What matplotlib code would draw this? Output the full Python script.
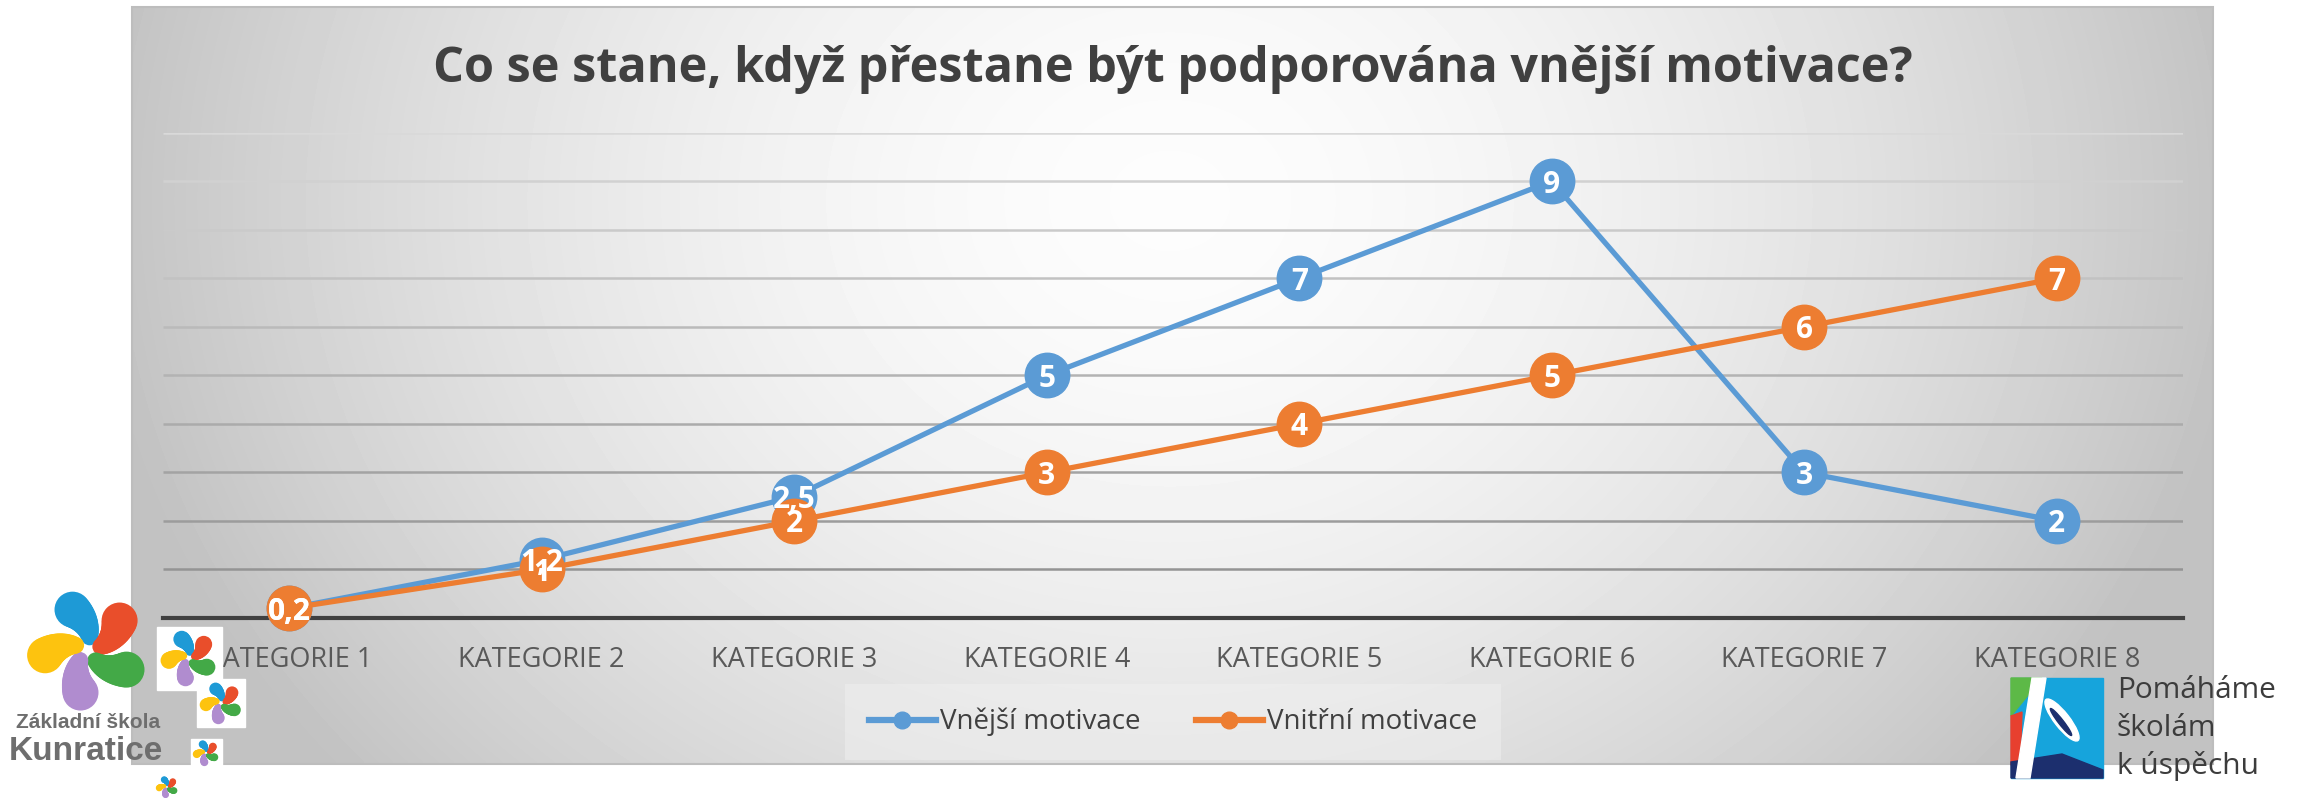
import numpy as np
import matplotlib
matplotlib.use("Agg")
import matplotlib.pyplot as plt
from matplotlib.patches import Rectangle, Ellipse, Polygon, Circle
from matplotlib.lines import Line2D


# DATA
categories = ["KATEGORIE 1", "KATEGORIE 2", "KATEGORIE 3", "KATEGORIE 4",
              "KATEGORIE 5", "KATEGORIE 6", "KATEGORIE 7", "KATEGORIE 8"]
vnejsi = [0.2, 1.2, 2.5, 5, 7, 9, 3, 2]
vnitrni = [0.2, 1, 2, 3, 4, 5, 6, 7]
series_names = ["Vnější motivace", "Vnitřní motivace"]
title = "Co se stane, když přestane být podporována vnější motivace?"

colors = ["#5B9BD5", "#ED7D31"]
W, H = 2305, 798
FONT = ["Open Sans", "DejaVu Sans"]

plt.rcParams["font.family"] = FONT

fig = plt.figure(figsize=(W / 100, H / 100), dpi=100)
fig.patch.set_facecolor("white")


# BACKGROUND PANEL (pixel coordinates)
bg = fig.add_axes([0, 0, 1, 1], zorder=0)
bg.set_xlim(0, W)
bg.set_ylim(H, 0)
bg.axis("off")

px0, px1, py0, py1 = 132, 2213, 7, 764
xx, yy = np.meshgrid(np.linspace(px0, px1, 500), np.linspace(py0, py1, 200))
r = np.sqrt(((xx - 1170) / 1080) ** 2 + ((yy - 200) / 900) ** 2)
shade = 0.99 - 0.23 * np.clip(r, 0, 1) ** 1.7
bg.imshow(shade, cmap="gray", vmin=0, vmax=1, extent=(px0, px1, py1, py0),
          aspect="auto", interpolation="bilinear")
bg.add_patch(Rectangle((px0, py0), px1 - px0, py1 - py0, fill=False,
                       ec="#bdbdbd", lw=1.5))

bg.text((px0 + px1) / 2, 70, title, ha="center", va="center", fontsize=35,
        fontweight="bold", color="#404040")


# CHART
ax = fig.add_axes([163 / W, 1 - 618 / H, (2183 - 163) / W, (618 - 132.7) / H],
                  zorder=1)
ax.patch.set_alpha(0)
x = np.arange(len(categories))
ax.set_xlim(-0.5, len(categories) - 0.5)
ax.set_ylim(0, 10)

grid_vals = np.arange(1, 11)
grid_cols = [plt.cm.gray(0.58 + 0.27 * (v - 1) / 9) for v in grid_vals]
ax.hlines(grid_vals, -0.5, len(categories) - 0.5, colors=grid_cols, lw=1.8,
          zorder=1)
ax.axhline(0, color="#404040", lw=3, zorder=2, clip_on=False)

for vals, name, c in zip([vnejsi, vnitrni], series_names, colors):
    ax.plot(x, vals, color=c, lw=3.8, marker="o", ms=32, mfc=c, mec=c,
            solid_capstyle="round", clip_on=False, zorder=3)

for vals in [vnejsi, vnitrni]:
    for xi, v in zip(x, vals):
        ax.text(xi, v, f"{v:g}".replace(".", ","), ha="center",
                va="center_baseline", color="white", fontsize=21.5,
                fontweight="bold", zorder=5)

ax.set_xticks(x, categories)
ax.set_yticks([])
ax.tick_params(axis="x", length=0, pad=20, labelsize=19.5, labelcolor="#595959")
for s in ax.spines.values():
    s.set_visible(False)

handles = [Line2D([], [], color=c, lw=4.5, marker="o", ms=12, mfc=c, mec=c)
           for c in colors]
leg = fig.legend(handles, series_names, loc="center",
                 bbox_to_anchor=(1173 / W, 1 - 722 / H), ncol=2, fontsize=20,
                 frameon=True, facecolor="#f2f2f2", edgecolor="none",
                 framealpha=0.45, handlelength=2.4, handletextpad=0.15,
                 columnspacing=2.0, labelcolor="#404040", borderpad=0.55,
                 borderaxespad=0)
leg.get_frame().set_boxstyle("square", pad=0.3)


# LOGOS (pixel coordinates)
lg = fig.add_axes([0, 0, 1, 1], zorder=3)
lg.set_xlim(0, W)
lg.set_ylim(H, 0)
lg.axis("off")


def pinwheel(cx, cy, s):
    cols = ["#1e9ad6", "#e94e2b", "#43a947", "#b08ccf", "#fdc30f"]
    angs = [-111, -43, 27, 100, 173]
    for c, a in zip(cols, angs):
        # comma-shaped blob: circles along a path from head to tail
        for t in np.linspace(0, 1, 14):
            ang = np.deg2rad(a + 28 * t)
            d = s * (0.72 - 0.5 * t)
            rad = s * (0.3 - 0.16 * t)
            lg.add_patch(Circle((cx + d * np.cos(ang), cy + d * np.sin(ang)),
                                rad, color=c, lw=0))


pinwheel(88, 650, 60)
for (cx, cy, sz, box) in [(189, 658, 28, (157, 627, 65, 63)),
                          (221, 703, 21, (197, 679, 48, 48)),
                          (206, 753, 13, (191, 739, 31, 28)),
                          (167, 787, 11, None)]:
    if box is not None:
        lg.add_patch(Rectangle((box[0], box[1]), box[2], box[3], color="white"))
    pinwheel(cx, cy, sz)

lg.text(88, 722, "Základní škola", ha="center", va="center", fontsize=15,
        fontweight="bold", color="#6e6e6e", family=["Liberation Sans", "DejaVu Sans"])
lg.text(86, 752, "Kunratice", ha="center", va="center", fontsize=24,
        fontweight="bold", color="#6e6e6e", family=["Liberation Sans", "DejaVu Sans"])

# right logo
lg.add_patch(Rectangle((2011, 678), 92, 100, color="#16a4dc"))
lg.add_patch(Polygon([(2011, 678), (2042, 678), (2011, 716)], color="#5db947"))
lg.add_patch(Polygon([(2011, 716), (2022, 712), (2020, 765), (2011, 765)],
                     color="#e7402f"))
lg.add_patch(Polygon([(2011, 778), (2103, 778), (2103, 770), (2062, 754),
                      (2011, 762)], color="#1c2f6e"))
lg.add_patch(Polygon([(2032, 678), (2046, 678), (2030, 778), (2016, 778)],
                     color="white"))
lg.add_patch(Ellipse((2062, 720), 15, 52, angle=-38, color="white"))
lg.add_patch(Ellipse((2061, 722), 5, 34, angle=-38, color="#1c2f6e"))
for i, line in enumerate(["Pomáháme", "školám", "k úspěchu"]):
    lg.text(2117, 690 + 38 * i, line, ha="left", va="center", fontsize=21.5,
            color="#3c3c3c")

fig.savefig("out.png", dpi=100)
